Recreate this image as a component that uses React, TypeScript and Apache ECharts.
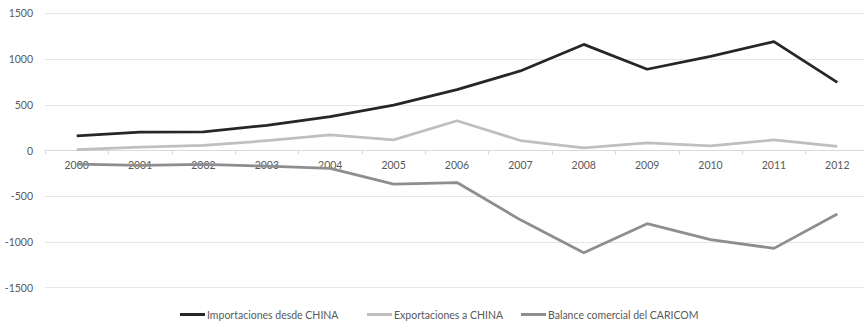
import React, { useEffect, useRef } from "react";
import * as echarts from "echarts";

const years = ["2000", "2001", "2002", "2003", "2004", "2005", "2006", "2007", "2008", "2009", "2010", "2011", "2012"];
const importaciones = [160, 202, 204, 275, 370, 497, 665, 870, 1160, 888, 1030, 1190, 745];
const exportaciones = [10, 38, 55, 107, 172, 116, 325, 109, 29, 84, 51, 116, 44];
const balance = [-148, -162, -152, -172, -195, -368, -350, -758, -1118, -800, -975, -1070, -695];
const seriesNames = ["Importaciones desde CHINA", "Exportaciones a CHINA", "Balance comercial del CARICOM"];
const seriesColors = ["#262626", "#bfbfbf", "#8e8e8e"];

const FONT = "Lato, 'Noto Sans', sans-serif";
const TEXT_COLOR = "#595959";

const GRID_TOP = 13.3;
const GRID_HEIGHT = 274.4;
const Y_MIN = -1500;
const Y_MAX = 1500;

export default function App() {
  const ref = useRef<HTMLDivElement>(null);

  useEffect(() => {
    document.body.style.margin = "0";
    document.body.style.overflow = "hidden";
    if (!ref.current) return;
    const chart = echarts.init(ref.current, undefined, { renderer: "svg" });
    const legendLeft = [180, 367, 521];
    const values = [importaciones, exportaciones, balance];
    // lift the category axis from the bottom edge up to the zero line
    const zeroOffset = -GRID_HEIGHT * (0 - Y_MIN) / (Y_MAX - Y_MIN);
    chart.setOption({
      animation: false,
      backgroundColor: "#ffffff",
      // the plot runs a little past the right edge of the canvas
      grid: {
        left: 45,
        width: 824,
        top: GRID_TOP,
        height: GRID_HEIGHT,
        containLabel: false,
        outerBoundsMode: "none",
      },
      legend: seriesNames.map((name, i) => ({
        data: [name],
        left: legendLeft[i],
        top: 309,
        icon: "rect",
        itemWidth: 25,
        itemHeight: 3,
        padding: 0,
        textStyle: { fontFamily: FONT, fontSize: 10.5, color: TEXT_COLOR, padding: [0, 0, 0, -3] },
      })),
      xAxis: {
        type: "category",
        data: years,
        boundaryGap: true,
        position: "bottom",
        offset: zeroOffset,
        axisLine: { show: true, onZero: false, lineStyle: { color: "#d9d9d9", width: 1 } },
        axisTick: { show: true, length: 4, lineStyle: { color: "#d9d9d9" } },
        axisLabel: { fontFamily: FONT, fontSize: 10.5, color: TEXT_COLOR, margin: 9 },
        splitLine: { show: false },
      },
      yAxis: {
        type: "value",
        min: Y_MIN,
        max: Y_MAX,
        interval: 500,
        axisLine: { show: false },
        axisTick: { show: false },
        axisLabel: {
          fontFamily: FONT,
          fontSize: 10.5,
          color: TEXT_COLOR,
          margin: 12,
          formatter: (v: number) => String(v),
        },
        splitLine: { lineStyle: { color: "#e6e6e6", width: 1 } },
      },
      series: seriesNames.map((name, i) => ({
        name,
        type: "line",
        data: values[i],
        symbol: "none",
        lineStyle: { color: seriesColors[i], width: 2.75 },
        itemStyle: { color: seriesColors[i] },
        z: 3 - i,
      })),
    });
    return () => chart.dispose();
  }, []);

  return <div ref={ref} style={{ width: 864, height: 323 }} />;
}
